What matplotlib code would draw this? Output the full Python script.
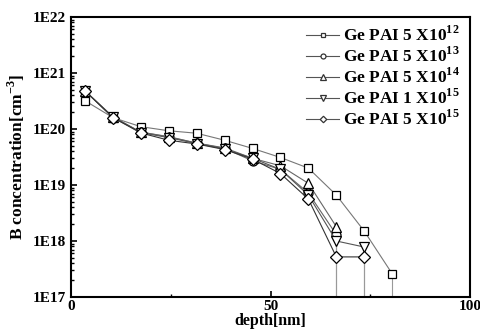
import matplotlib
matplotlib.use("Agg")
import matplotlib.pyplot as plt
from matplotlib.ticker import FixedLocator, FuncFormatter, LogLocator, NullFormatter
import numpy as np

plt.rcParams['font.family'] = ['Liberation Serif', 'DejaVu Serif']
plt.rcParams['font.weight'] = 'bold'
plt.rcParams['mathtext.fontset'] = 'custom'
plt.rcParams['mathtext.rm'] = 'Liberation Serif:bold'
plt.rcParams['mathtext.bf'] = 'Liberation Serif:bold'

depth = [3.5, 10.5, 17.5, 24.5, 31.5, 38.5, 45.5, 52.5, 59.5, 66.5, 73.5, 80.5]

conc_5e12 = [3.2e20, 1.6e20, 1.1e20, 9.3e19, 8.4e19, 6.3e19, 4.5e19, 3.1e19, 2.0e19, 6.6e18, 1.5e18, 2.6e17]
conc_5e13 = [4.8e20, 1.6e20, 8.8e19, 7.2e19, 5.6e19, 4.5e19, 2.7e19, 1.9e19, 7.2e18, 1.3e18]
conc_5e14 = [4.8e20, 1.65e20, 8.8e19, 7.3e19, 5.6e19, 4.6e19, 3.0e19, 2.2e19, 1.07e19, 1.8e18]
conc_1e15 = [4.8e20, 1.65e20, 8.6e19, 7.0e19, 5.5e19, 4.4e19, 3.0e19, 1.9e19, 6.6e18, 1.0e18, 7.8e17]
conc_5e15 = [4.8e20, 1.6e20, 8.5e19, 6.3e19, 5.4e19, 4.3e19, 2.9e19, 1.6e19, 5.6e18, 5.2e17, 5.2e17]

labels = [r'Ge PAI 5 X10$^{12}$', r'Ge PAI 5 X10$^{13}$', r'Ge PAI 5 X10$^{14}$',
          r'Ge PAI 1 X10$^{15}$', r'Ge PAI 5 X10$^{15}$']
series = [conc_5e12, conc_5e13, conc_5e14, conc_1e15, conc_5e15]
markers = ['s', 'o', '^', 'v', 'D']
msizes = [6, 6.5, 7, 7, 6]
lcolors = ['#777777', '#666666', '#666666', '#555555', '#333333']

fig = plt.figure(figsize=(4.81, 3.32), dpi=100)
ax = fig.add_axes([71/481, 1-297/332, (470-71)/481, (297-17)/332])
ax.set_yscale('log')
ax.set_xlim(0, 100)
ax.set_ylim(1e17, 1e22)

for vals, m, ms, lc, lab in zip(series, markers, msizes, lcolors, labels):
    x = depth[:len(vals)]
    ax.plot(x, vals, color=lc, lw=0.8, marker=m, ms=ms, mfc='white', mec='black',
            mew=0.9, label=lab, zorder=3)
    ax.vlines(x[-1], 1e17, vals[-1], color='#999999', lw=0.8, zorder=2)

ax.xaxis.set_major_locator(FixedLocator([0, 50, 100]))
ax.xaxis.set_minor_locator(FixedLocator([25, 75]))
ax.yaxis.set_major_locator(LogLocator(base=10, numticks=10))
ax.yaxis.set_minor_locator(LogLocator(base=10, subs=np.arange(2, 10), numticks=20))
ax.yaxis.set_minor_formatter(NullFormatter())
ax.yaxis.set_major_formatter(FuncFormatter(lambda v, p: '1E%d' % int(round(np.log10(v)))))
ax.tick_params(which='both', direction='in', top=False, right=False, labelsize=11)
ax.tick_params(which='major', length=4, width=1.2)
ax.tick_params(which='minor', length=2.5, width=1)
ax.tick_params(axis='x', pad=2)
for s in ax.spines.values():
    s.set_linewidth(1.5)

ax.set_xlabel('depth[nm]', fontsize=11.5, fontweight='bold', labelpad=0)
ax.set_ylabel(r'B concentration[cm$^{-3}$]', fontsize=12.5, fontweight='bold', labelpad=4)

leg = ax.legend(loc='upper right', bbox_to_anchor=(0.995, 1.0), frameon=False, fontsize=12.5,
                handlelength=1.9, handletextpad=0.2, labelspacing=0.1, borderaxespad=0.2,
                borderpad=0.3, markerscale=0.55)
for h in leg.legend_handles:
    h.set_color('#555555')
    h.set_markeredgecolor('#333333')

fig.savefig('out.png', dpi=100)
